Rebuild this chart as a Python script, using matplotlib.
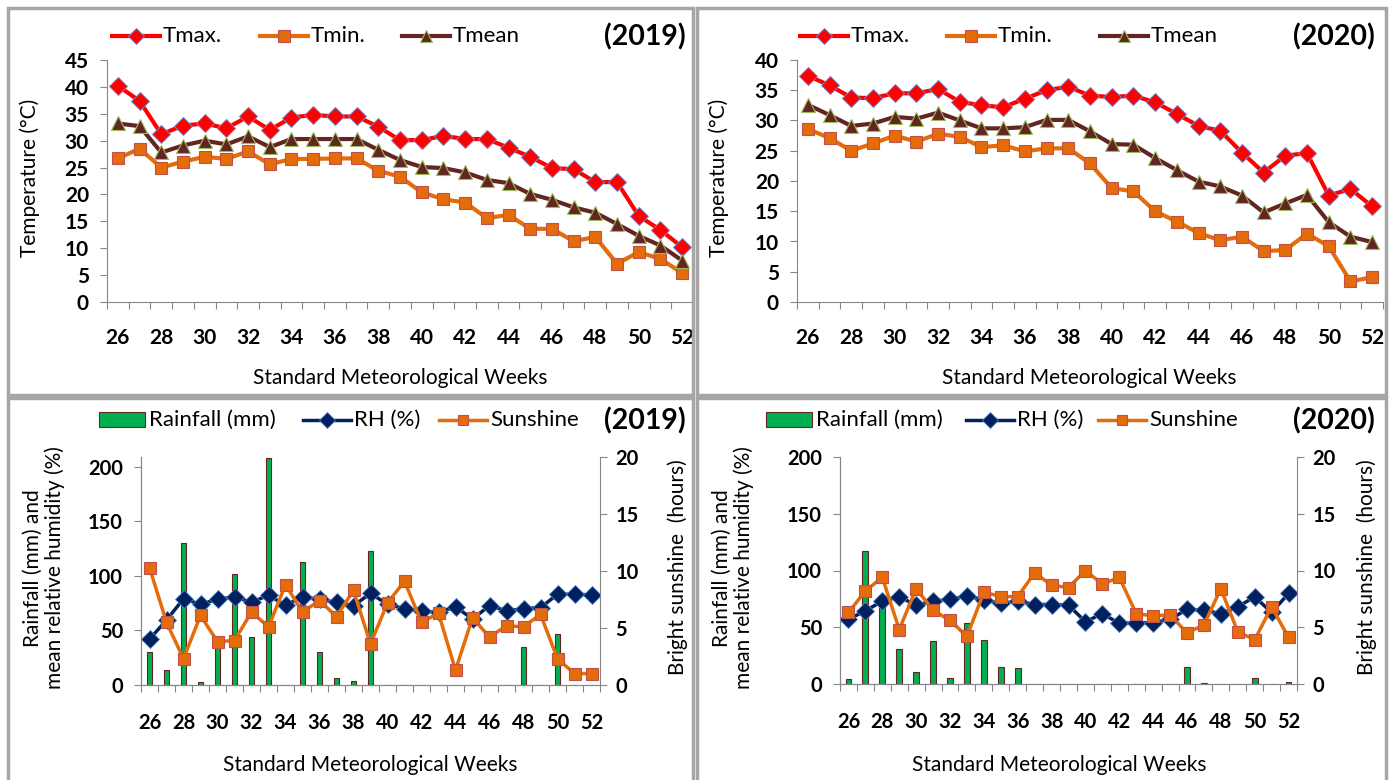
import numpy as np
import matplotlib
matplotlib.use("Agg")
import matplotlib.pyplot as plt
from matplotlib.lines import Line2D
from matplotlib.patches import Rectangle

plt.rcParams['font.family'] = ['Lato', 'DejaVu Sans']

weeks = list(range(26, 53))

# 2019 temperatures (deg C)
tmax_2019 = [40.2, 37.4, 31.2, 32.8, 33.2, 32.3, 34.5, 32.0, 34.3, 34.8, 34.5, 34.5, 32.6, 30.1,
             30.1, 30.9, 30.3, 30.3, 28.7, 27.0, 24.9, 24.7, 22.3, 22.3, 16.0, 13.4, 10.2]
tmin_2019 = [26.7, 28.5, 25.0, 26.1, 27.0, 26.6, 28.0, 25.6, 26.6, 26.6, 26.7, 26.7, 24.4, 23.3,
             20.4, 19.1, 18.5, 15.6, 16.2, 13.6, 13.6, 11.3, 12.1, 7.1, 9.3, 8.0, 5.4]
tmean_2019 = [33.2, 32.7, 27.8, 29.1, 30.0, 29.3, 30.8, 28.8, 30.3, 30.3, 30.3, 30.3, 28.3, 26.4,
              25.1, 24.9, 24.1, 22.7, 22.1, 20.1, 19.0, 17.6, 16.6, 14.5, 12.3, 10.5, 7.7]

# 2020 temperatures (deg C)
tmax_2020 = [37.4, 35.8, 33.8, 33.7, 34.5, 34.5, 35.2, 33.1, 32.5, 32.2, 33.6, 35.0, 35.6, 34.1,
             33.9, 34.1, 33.0, 31.1, 29.1, 28.3, 24.7, 21.4, 24.2, 24.6, 17.6, 18.7, 15.8]
tmin_2020 = [28.6, 27.1, 25.0, 26.2, 27.5, 26.5, 27.8, 27.3, 25.6, 25.9, 24.9, 25.4, 25.4, 22.9,
             18.8, 18.3, 15.0, 13.3, 11.4, 10.2, 10.8, 8.4, 8.6, 11.3, 9.2, 3.4, 4.1]
tmean_2020 = [32.6, 30.9, 29.1, 29.5, 30.6, 30.3, 31.3, 30.0, 28.7, 28.7, 28.9, 30.1, 30.1, 28.2,
              26.1, 26.0, 23.8, 21.8, 19.9, 19.1, 17.6, 14.8, 16.3, 17.7, 13.2, 10.8, 9.9]

# rainfall (mm), RH (%), sunshine (hours)
rain_2019 = [30, 14, 130, 3, 38, 102, 44, 208, 0, 113, 30, 6, 4, 123,
             0, 0, 0, 0, 0, 0, 0, 0, 35, 0, 47, 0, 0]
rh_2019 = [42, 59.5, 79, 74, 78.5, 81, 75.7, 82.4, 73, 81, 78.5, 75.7, 72.7, 84,
           74, 70, 68, 66.5, 71.8, 60.5, 72.7, 68, 70, 71, 83, 83.4, 82.4]
sun_2019 = [10.3, 5.5, 2.3, 6.1, 3.8, 3.9, 6.4, 5.1, 8.8, 6.4, 7.4, 6.0, 8.3, 3.6,
            7.2, 9.1, 5.5, 6.3, 1.3, 5.9, 4.2, 5.2, 5.1, 6.2, 2.3, 1.0, 1.0]

rain_2020 = [4, 117, 70, 31, 11, 38, 5, 54, 39, 15, 14, 0, 0, 0,
             0, 0, 0, 0, 0, 0, 15, 1, 0, 0, 5, 0, 2]
rh_2020 = [57, 64.5, 73, 76.8, 69.5, 73, 74.5, 77.7, 74, 71, 73, 70, 70, 69.5,
           54.8, 62, 53.4, 54, 54, 57, 65.7, 65, 62, 68, 76.8, 63, 79.8]
sun_2020 = [6.3, 8.2, 9.4, 4.8, 8.4, 6.5, 5.6, 4.2, 8.1, 7.7, 7.7, 9.8, 8.7, 8.5,
            10.0, 8.8, 9.4, 6.2, 6.0, 6.1, 4.5, 5.2, 8.4, 4.6, 3.9, 6.8, 4.1]

W, H = 1390, 780
fig = plt.figure(figsize=(13.9, 7.8), dpi=100)


def rect(l, r, t, b):
    return [l / W, 1 - b / H, (r - l) / W, (b - t) / H]


def fx(x):
    return x / W


def fy(y):
    return 1 - y / H


# panel frames
for (l, t, r, b) in [(8, 8, 693, 395), (697, 8, 1386, 395), (8, 398, 693, 795), (697, 398, 1386, 795)]:
    fig.patches.append(Rectangle((fx(l), fy(b)), fx(r - l), (b - t) / H, transform=fig.transFigure,
                                 fill=False, edgecolor='#a6a6a6', lw=2.5))

axc = '#868686'
x = np.arange(len(weeks))

# line styles of the series
S_TMAX = dict(color='#ff0000', lw=3, marker='D', ms=9, mfc='#ff0000', mec='#8080c0', mew=0.7)
S_TMIN = dict(color='#e46c0a', lw=3, marker='s', ms=9, mfc='#e46c0a', mec='#c0504d', mew=0.8)
S_TMEAN = dict(color='#632523', lw=3, marker='^', ms=10, mfc='#632523', mec='#9bbb59', mew=0.8)
S_RH = dict(color='#002060', lw=2.5, marker='D', ms=9, mfc='#002060', mec='#4f81bd', mew=0.6)
S_SUN = dict(color='#e46c0a', lw=2.5, marker='s', ms=8, mfc='#e46c0a', mec='#c0504d', mew=0.8)


def legend_line(x0, x1, y, style, label, size=16):
    st = dict(style)
    mk = {k: st.pop(k) for k in ['marker', 'ms', 'mfc', 'mec', 'mew']}
    mk['ms'] = mk['ms'] - 1
    fig.add_artist(Line2D([fx(x0), fx(x1)], [fy(y), fy(y)], transform=fig.transFigure, **st))
    fig.add_artist(Line2D([fx((x0 + x1) / 2)], [fy(y)], transform=fig.transFigure, ls='none', **mk))
    fig.text(fx(x1 + 3), fy(y), label, ha='left', va='center', fontsize=size)


def style_xaxis(ax, tick_size, pad):
    ax.set_xlim(-0.5, len(weeks) - 0.5)
    ax.set_xticks(np.arange(-0.5, len(weeks), 1.0))
    ax.set_xticklabels([])
    ax.set_xticks(x[::2], minor=True)
    ax.set_xticklabels([str(w) for w in weeks[::2]], minor=True, fontsize=tick_size, fontweight='bold')
    ax.tick_params(axis='x', which='major', length=5, color=axc, direction='out')
    ax.tick_params(axis='x', which='minor', length=0, pad=pad)
    ax.spines['top'].set_visible(False)
    ax.spines['right'].set_visible(False)
    for s in ['left', 'bottom']:
        ax.spines[s].set_color(axc)


def temp_panel(ax, tmax, tmin, tmean, ymax, year, xoff, leg):
    ax.plot(x, tmax, **S_TMAX)
    ax.plot(x, tmin, **S_TMIN)
    ax.plot(x, tmean, **S_TMEAN)
    ax.set_ylim(0, ymax)
    ax.set_yticks(np.arange(0, ymax + 1, 5))
    ax.tick_params(axis='y', length=5, color=axc, labelsize=15, pad=8)
    for lab in ax.get_yticklabels():
        lab.set_fontweight('bold')
    style_xaxis(ax, 15, 19)
    for x0, st, lab in zip(leg, [S_TMAX, S_TMIN, S_TMEAN], ['Tmax.', 'Tmin.', 'Tmean']):
        legend_line(x0, x0 + 48, 36, st, lab)
    fig.text(fx(xoff + 686), fy(37), '(' + year + ')', ha='right', va='center', fontsize=20.5, fontweight='bold')
    fig.text(fx(xoff + 400), fy(378), 'Standard Meteorological Weeks', ha='center', va='center', fontsize=15)
    fig.text(fx(xoff + 30), fy(178), 'Temperature (°C)', ha='center', va='center', rotation=90, fontsize=15)


def weather_panel(ax, rain, rh, sun, lmax, year, xoff, leg):
    ax.bar(x, rain, width=0.35, color='#00b050', edgecolor='#632523', lw=0.8, zorder=2)
    ax.plot(x, rh, zorder=3, **S_RH)
    ax.set_ylim(0, lmax)
    ax.set_yticks([0, 50, 100, 150, 200])
    ax.tick_params(axis='y', length=5, color=axc, labelsize=14.5, pad=8)
    for lab in ax.get_yticklabels():
        lab.set_fontweight('bold')
    style_xaxis(ax, 14.5, 20)
    ax2 = ax.twinx()
    ax2.plot(x, sun, **S_SUN)
    ax2.set_ylim(0, 20)
    ax2.set_yticks([0, 5, 10, 15, 20])
    ax2.tick_params(axis='y', length=5, color=axc, labelsize=14.5, pad=6)
    for lab in ax2.get_yticklabels():
        lab.set_fontweight('bold')
    ax2.spines['top'].set_visible(False)
    for s in ['left', 'bottom', 'right']:
        ax2.spines[s].set_color(axc)
    # legend: rainfall box, RH line, sunshine line
    fig.patches.append(Rectangle((fx(leg[0]), fy(427)), fx(46), 15 / H, transform=fig.transFigure,
                                 facecolor='#00b050', edgecolor='#632523', lw=0.8))
    fig.text(fx(leg[0] + 50), fy(420), 'Rainfall (mm)', ha='left', va='center', fontsize=16)
    legend_line(leg[1], leg[1] + 48, 420, S_RH, 'RH (%)')
    legend_line(leg[2], leg[2] + 48, 420, S_SUN, 'Sunshine')
    fig.text(fx(xoff + 686), fy(421), '(' + year + ')', ha='right', va='center', fontsize=20.5, fontweight='bold')
    fig.text(fx(xoff + 370), fy(765), 'Standard Meteorological Weeks', ha='center', va='center', fontsize=15)
    fig.text(fx(xoff + 44), fy(568), 'Rainfall (mm) and\nmean relative humidity (%)', ha='center', va='center',
             rotation=90, fontsize=15, linespacing=1.1)
    fig.text(fx(xoff + 678), fy(567), 'Bright sunshine  (hours)', ha='center', va='center', rotation=90,
             fontsize=15)


ax1 = fig.add_axes(rect(107, 693, 60, 302))
temp_panel(ax1, tmax_2019, tmin_2019, tmean_2019, 45, '2019', 0, [112, 260, 402])
ax2 = fig.add_axes(rect(797, 1383, 60, 302))
temp_panel(ax2, tmax_2020, tmin_2020, tmean_2020, 40, '2020', 689, [800, 947, 1100])

ax3 = fig.add_axes(rect(141, 600, 457, 685))
weather_panel(ax3, rain_2019, rh_2019, sun_2019, 209, '2019', 0, [99, 303, 439])
ax4 = fig.add_axes(rect(840, 1297, 457, 684))
weather_panel(ax4, rain_2020, rh_2020, sun_2020, 200, '2020', 689, [766, 966, 1098])

fig.savefig('out.png', dpi=100)
